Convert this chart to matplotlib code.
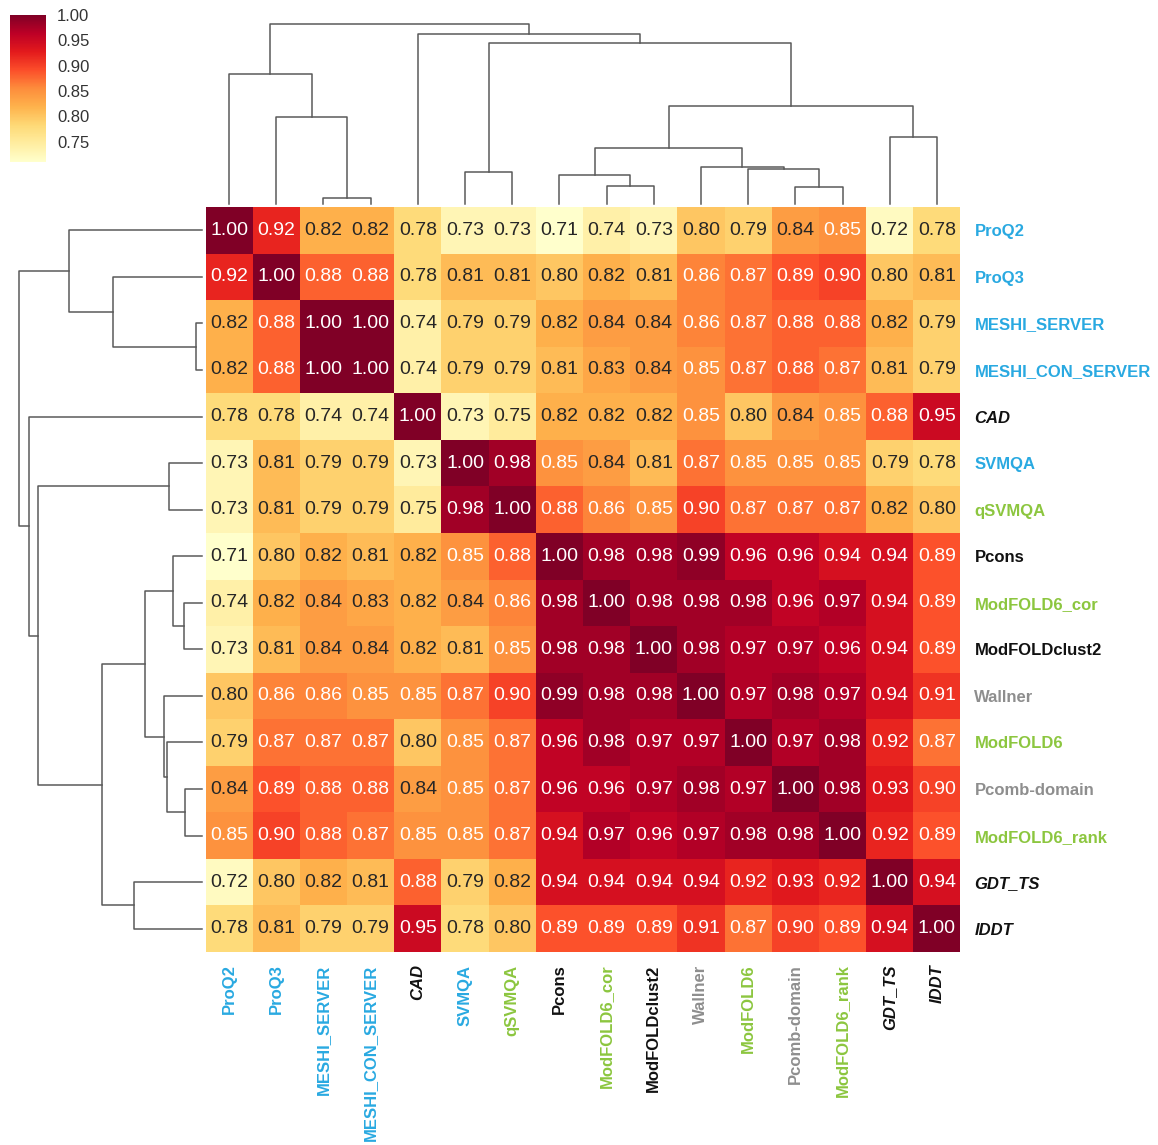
import numpy as np
import matplotlib
matplotlib.use("Agg")
import matplotlib.pyplot as plt
from matplotlib.colors import Normalize

plt.rcParams['font.family'] = ['Liberation Sans', 'DejaVu Sans']

# ordem das linhas/colunas (já ordenada pelo agrupamento)
labels = ["ProQ2", "ProQ3", "MESHI_SERVER", "MESHI_CON_SERVER", "CAD", "SVMQA",
          "qSVMQA", "Pcons", "ModFOLD6_cor", "ModFOLDclust2", "Wallner", "ModFOLD6",
          "Pcomb-domain", "ModFOLD6_rank", "GDT_TS", "lDDT"]

# grupo de cada etiqueta -> cor/estilo do texto
groups = ["single", "single", "single", "single", "ref", "single",
          "quasi", "cons", "quasi", "cons", "other", "quasi",
          "other", "quasi", "ref", "ref"]

corr = np.array([
    [1.00, 0.92, 0.82, 0.82, 0.78, 0.73, 0.73, 0.71, 0.74, 0.73, 0.80, 0.79, 0.84, 0.85, 0.72, 0.78],
    [0.92, 1.00, 0.88, 0.88, 0.78, 0.81, 0.81, 0.80, 0.82, 0.81, 0.86, 0.87, 0.89, 0.90, 0.80, 0.81],
    [0.82, 0.88, 1.00, 1.00, 0.74, 0.79, 0.79, 0.82, 0.84, 0.84, 0.86, 0.87, 0.88, 0.88, 0.82, 0.79],
    [0.82, 0.88, 1.00, 1.00, 0.74, 0.79, 0.79, 0.81, 0.83, 0.84, 0.85, 0.87, 0.88, 0.87, 0.81, 0.79],
    [0.78, 0.78, 0.74, 0.74, 1.00, 0.73, 0.75, 0.82, 0.82, 0.82, 0.85, 0.80, 0.84, 0.85, 0.88, 0.95],
    [0.73, 0.81, 0.79, 0.79, 0.73, 1.00, 0.98, 0.85, 0.84, 0.81, 0.87, 0.85, 0.85, 0.85, 0.79, 0.78],
    [0.73, 0.81, 0.79, 0.79, 0.75, 0.98, 1.00, 0.88, 0.86, 0.85, 0.90, 0.87, 0.87, 0.87, 0.82, 0.80],
    [0.71, 0.80, 0.82, 0.81, 0.82, 0.85, 0.88, 1.00, 0.98, 0.98, 0.99, 0.96, 0.96, 0.94, 0.94, 0.89],
    [0.74, 0.82, 0.84, 0.83, 0.82, 0.84, 0.86, 0.98, 1.00, 0.98, 0.98, 0.98, 0.96, 0.97, 0.94, 0.89],
    [0.73, 0.81, 0.84, 0.84, 0.82, 0.81, 0.85, 0.98, 0.98, 1.00, 0.98, 0.97, 0.97, 0.96, 0.94, 0.89],
    [0.80, 0.86, 0.86, 0.85, 0.85, 0.87, 0.90, 0.99, 0.98, 0.98, 1.00, 0.97, 0.98, 0.97, 0.94, 0.91],
    [0.79, 0.87, 0.87, 0.87, 0.80, 0.85, 0.87, 0.96, 0.98, 0.97, 0.97, 1.00, 0.97, 0.98, 0.92, 0.87],
    [0.84, 0.89, 0.88, 0.88, 0.84, 0.85, 0.87, 0.96, 0.96, 0.97, 0.98, 0.97, 1.00, 0.98, 0.93, 0.90],
    [0.85, 0.90, 0.88, 0.87, 0.85, 0.85, 0.87, 0.94, 0.97, 0.96, 0.97, 0.98, 0.98, 1.00, 0.92, 0.89],
    [0.72, 0.80, 0.82, 0.81, 0.88, 0.79, 0.82, 0.94, 0.94, 0.94, 0.94, 0.92, 0.93, 0.92, 1.00, 0.94],
    [0.78, 0.81, 0.79, 0.79, 0.95, 0.78, 0.80, 0.89, 0.89, 0.89, 0.91, 0.87, 0.90, 0.89, 0.94, 1.00],
])

# agrupamento: (filho esquerdo, filho direito, altura relativa); nós novos a partir de 16
merge_left = [2, 1, 0, 5, 8, 7, 12, 11, 10, 21, 14, 25, 19, 4, 18]
merge_right = [3, 16, 17, 6, 9, 20, 13, 22, 23, 24, 15, 26, 27, 28, 29]
merge_height = [0.032, 0.485, 0.725, 0.18, 0.10, 0.16, 0.093, 0.192, 0.206,
                0.312, 0.374, 0.546, 0.894, 0.947, 1.0]

group_color = {"single": "#29a9e1", "quasi": "#8cc63f", "cons": "#111111",
               "other": "#8e8e8e", "ref": "#111111"}


def dendro_segments():
    """Devolve as linhas em U do dendrograma (posição ao longo das folhas, altura)."""
    pos = [i + 0.5 for i in range(len(labels))]
    hgt = [0.0] * len(labels)
    segs = []
    for l, r, h in zip(merge_left, merge_right, merge_height):
        segs.append(([pos[l], pos[l], pos[r], pos[r]], [hgt[l], h, h, hgt[r]]))
        pos.append((pos[l] + pos[r]) / 2)
        hgt.append(h)
    return segs


def text_color(rgba):
    rgb = np.array(rgba[:3])
    rgb = np.where(rgb <= .03928, rgb / 12.92, ((rgb + .055) / 1.055) ** 2.4)
    lum = rgb.dot([.2126, .7152, .0722])
    return "#262626" if lum > .43 else "white"


W, H = 1158, 1145
fig = plt.figure(figsize=(W / 100, H / 100), dpi=100)

def px_axes(x0, y0, x1, y1):
    return fig.add_axes([x0 / W, 1 - y1 / H, (x1 - x0) / W, (y1 - y0) / H])

n = len(labels)
ax = px_axes(205.5, 207, 960.5, 952)
ax_top = px_axes(205.5, 24, 960.5, 204)
ax_left = px_axes(19, 207, 202, 952)
cax = px_axes(10, 15, 46, 162)

cmap = plt.get_cmap("YlOrRd")
norm = Normalize(vmin=corr.min(), vmax=corr.max())
mesh = ax.pcolormesh(np.arange(n + 1), np.arange(n + 1), corr, cmap=cmap, norm=norm)
ax.set_xlim(0, n)
ax.set_ylim(n, 0)
for i in range(n):
    for j in range(n):
        v = corr[i, j]
        ax.text(j + 0.5, i + 0.5, f"{v:.2f}", ha="center", va="center",
                fontsize=14, color=text_color(cmap(norm(v))))

for s in ax.spines.values():
    s.set_visible(False)
ax.set_xticks(np.arange(n) + 0.5)
ax.set_yticks(np.arange(n) + 0.5)
ax.set_xticklabels(labels, rotation=90, fontsize=12, fontweight="bold")
ax.set_yticklabels(labels, fontsize=12, fontweight="bold")
ax.yaxis.tick_right()
ax.tick_params(axis="x", length=0, pad=9)
ax.tick_params(axis="y", length=0, pad=10)
for tl_x, tl_y, g in zip(ax.get_xticklabels(), ax.get_yticklabels(), groups):
    for t in (tl_x, tl_y):
        t.set_color(group_color[g])
        if g == "ref":
            t.set_fontstyle("italic")

# dendrogramas
for xs, hs in dendro_segments():
    ax_top.plot(xs, hs, color="#5a5a5a", lw=1.1, clip_on=False)
    ax_left.plot(hs, xs, color="#5a5a5a", lw=1.1, clip_on=False)
ax_top.set_xlim(0, n)
ax_top.set_ylim(0, 1)
ax_left.set_ylim(n, 0)
ax_left.set_xlim(1, 0)
for a in (ax_top, ax_left):
    a.axis("off")

cb = fig.colorbar(mesh, cax=cax, ticks=[0.75, 0.80, 0.85, 0.90, 0.95, 1.00], format="%.2f")
cb.outline.set_visible(False)
cax.tick_params(length=0, labelsize=12, labelcolor="#333333", pad=8)

fig.savefig("out.png", dpi=100)
